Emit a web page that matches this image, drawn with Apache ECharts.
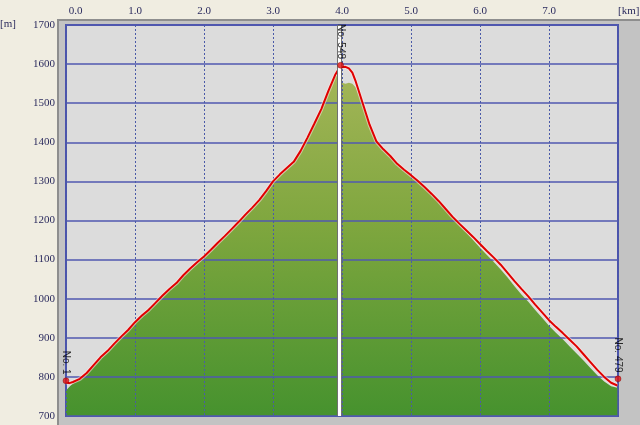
<!DOCTYPE html>
<html>
<head>
<meta charset="utf-8">
<script src="https://cdn.jsdelivr.net/npm/echarts@6/dist/echarts.min.js"></script>
<style>
  html, body { margin: 0; padding: 0; background: #f0ede1; overflow: hidden; width: 640px; height: 425px; }
  #panel { position: absolute; left: 57px; top: 19px; width: 581px; height: 404px;
           background: #c3c3c3; border-left: 2px solid #8e8e8e; border-top: 2px solid #8e8e8e; }
  #chart { position: absolute; left: 0; top: 0; width: 640px; height: 425px; }
</style>
</head>
<body>
<div id="panel"></div>
<div id="chart"></div>
<script>
// distance along route [km]
const distKm = [0.00, 0.05, 0.10, 0.20, 0.30, 0.40, 0.50, 0.60, 0.70, 0.80, 0.90,
  1.00, 1.10, 1.20, 1.30, 1.40, 1.50, 1.60, 1.70, 1.80, 1.90,
  2.00, 2.10, 2.20, 2.30, 2.40, 2.50, 2.60, 2.70, 2.80, 2.90,
  3.00, 3.10, 3.20, 3.30, 3.40, 3.50, 3.60, 3.70, 3.80, 3.90, 3.95,
  4.00, 4.05, 4.10, 4.15, 4.20, 4.30, 4.40, 4.50, 4.60, 4.70, 4.80, 4.90,
  5.00, 5.10, 5.20, 5.30, 5.40, 5.50, 5.60, 5.70, 5.80, 5.90,
  6.00, 6.10, 6.20, 6.30, 6.40, 6.50, 6.60, 6.70, 6.80, 6.90,
  7.00, 7.10, 7.20, 7.30, 7.40, 7.50, 7.60, 7.70, 7.80, 7.90, 7.99];
// GPS track elevation [m] (red line)
const trackElev = [786, 784, 787, 795, 810, 830, 850, 866, 885, 903, 920,
  940, 957, 972, 990, 1008, 1025, 1040, 1060, 1077, 1093,
  1108, 1125, 1143, 1160, 1178, 1196, 1215, 1233, 1252, 1275,
  1300, 1318, 1334, 1350, 1378, 1412, 1448, 1485, 1530, 1572, 1587,
  1592, 1593, 1589, 1578, 1555, 1500, 1445, 1402, 1382, 1365, 1345, 1330,
  1316, 1301, 1285, 1268, 1250, 1230, 1210, 1192, 1175, 1158,
  1140, 1122, 1105, 1087, 1066, 1045, 1025, 1006, 985, 965,
  945, 928, 912, 895, 878, 858, 838, 818, 800, 785, 778];
// terrain elevation [m] (green area)
const groundElev = [765, 775, 783, 792, 806, 826, 846, 862, 881, 899, 916,
  936, 954, 976, 986, 1004, 1021, 1036, 1056, 1073, 1089,
  1104, 1121, 1139, 1156, 1174, 1192, 1211, 1229, 1248, 1271,
  1296, 1314, 1330, 1346, 1374, 1408, 1444, 1481, 1526, 1567, 1576,
  1552, 1550, 1552, 1550, 1540, 1494, 1440, 1398, 1378, 1361, 1341, 1326,
  1312, 1297, 1281, 1264, 1246, 1226, 1206, 1187, 1169, 1150,
  1130, 1112, 1094, 1075, 1054, 1032, 1011, 992, 971, 951,
  931, 913, 896, 878, 860, 842, 823, 804, 788, 776, 772];
// waypoint markers
const markerKm = [0.0, 3.98, 8.0];
const markerElev = [790, 1597, 795];
const markerNames = ['No. 1', 'No. 548', 'No. 479'];
// cursor position [km]
const cursorKm = 3.96;
// axes
const xMin = 0, xMax = 8, xStep = 1;
const yMin = 700, yMax = 1700, yStep = 100;

const chart = echarts.init(document.getElementById('chart'), null, { renderer: 'canvas' });
const labelColor = '#2b2b5e';
const labelFont = 'Liberation Serif';

chart.setOption({
  backgroundColor: 'transparent',
  animation: false,
  grid: { left: 66, right: 22, top: 25, bottom: 9, show: true, containLabel: false,
          outerBoundsMode: 'none',
          backgroundColor: '#dcdcdc', borderColor: '#4b53ad', borderWidth: 2 },
  title: { text: '[m]', left: 0, top: 19, padding: 0,
           textStyle: { fontFamily: labelFont, fontSize: 11, fontWeight: 'normal', color: labelColor } },
  xAxis: {
    type: 'value', position: 'top', min: xMin, max: xMax, interval: xStep, z: 2,
    axisLine: { show: false }, axisTick: { show: false },
    axisLabel: { margin: 8, fontFamily: labelFont, fontSize: 11, color: labelColor,
                 alignMinLabel: 'left', alignMaxLabel: 'left',
                 formatter: v => v === xMax ? '[km]' : (v === xMin ? ' ' : '') + v.toFixed(1) },
    splitLine: { show: true, lineStyle: { color: '#4a5aa8', width: 1, type: [2, 2] } }
  },
  yAxis: {
    type: 'value', min: yMin, max: yMax, interval: yStep, z: 2,
    axisLine: { show: false }, axisTick: { show: false },
    axisLabel: { margin: 11, fontFamily: labelFont, fontSize: 11, color: labelColor,
                 formatter: v => String(v) },
    splitLine: { show: true, lineStyle: { color: '#5058b0', width: 1.5 } }
  },
  series: [
    {
      type: 'line', z: 1, symbol: 'none', silent: true,
      data: distKm.map((d, i) => [d, groundElev[i]]),
      lineStyle: { width: 0 },
      areaStyle: { opacity: 1, color: new echarts.graphic.LinearGradient(0, 0, 0, 1, [
        { offset: 0, color: '#a3b557' }, { offset: 0.45, color: '#7ea63e' }, { offset: 1, color: '#46922e' }]) }
    },
    {
      type: 'line', z: 3, symbol: 'none', silent: true,
      data: distKm.map((d, i) => [d, trackElev[i]]),
      lineStyle: { color: 'rgba(255,230,230,0.55)', width: 4 }
    },
    {
      type: 'line', z: 3, symbol: 'none', silent: true,
      data: distKm.map((d, i) => [d, trackElev[i]]),
      lineStyle: { color: '#e00000', width: 2 },
      markLine: {
        silent: true, symbol: 'none', label: { show: false }, z: 4,
        data: [
          { xAxis: cursorKm, lineStyle: { color: '#707070', width: 5, type: 'solid' } },
          { xAxis: cursorKm, lineStyle: { color: '#ffffff', width: 3, type: 'solid' } }
        ]
      }
    },
    {
      type: 'scatter', z: 6, symbol: 'circle', symbolSize: 6,
      itemStyle: { color: '#e01010', borderColor: '#800000', borderWidth: 0.5 },
      data: markerKm.map((d, i) => ({ value: [d, markerElev[i]], name: markerNames[i] })),
      label: {
        show: true, position: 'top', distance: 3, rotate: -90,
        align: 'right', verticalAlign: 'middle',
        fontFamily: 'Liberation Sans', fontSize: 10, color: '#000',
        formatter: p => p.name
      }
    }
  ]
});
</script>
</body>
</html>
